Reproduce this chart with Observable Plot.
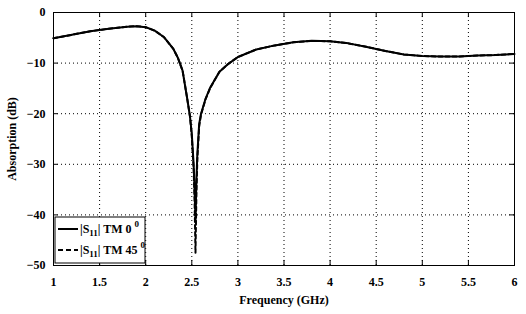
<!DOCTYPE html>
<html><head><meta charset="utf-8">
<script src="https://cdn.jsdelivr.net/npm/d3@7"></script>
<script src="https://cdn.jsdelivr.net/npm/@observablehq/plot@0.6"></script>
<style>
html,body{margin:0;padding:0;background:#fff;}
#chart{width:526px;height:314px;}
</style></head>
<body><div id="chart"></div>
<script>
const freq = [1.0,1.2,1.4,1.6,1.8,1.9,2.0,2.1,2.2,2.3,2.35,2.4,2.45,2.48,2.5,2.52,2.53,2.54,2.55,2.56,2.58,2.6,2.65,2.7,2.8,2.9,3.0,3.2,3.4,3.6,3.8,4.0,4.2,4.4,4.6,4.8,5.0,5.2,5.4,5.6,5.8,6.0];
const tm0 = [-5.1,-4.4,-3.7,-3.2,-2.8,-2.7,-2.9,-3.6,-4.9,-7.2,-9.0,-11.5,-17.0,-20.5,-24,-30,-35,-41,-33,-28,-22,-20,-17,-14.8,-11.7,-10.1,-8.8,-7.3,-6.5,-5.9,-5.6,-5.7,-6.1,-6.8,-7.6,-8.3,-8.6,-8.7,-8.7,-8.5,-8.4,-8.2];
const tm45 = [-5.1,-4.4,-3.7,-3.2,-2.8,-2.7,-2.9,-3.6,-4.9,-7.2,-9.0,-11.5,-17.0,-20.5,-24.5,-31,-37,-47.5,-36,-29,-22.5,-20.2,-17.1,-14.9,-11.7,-10.1,-8.8,-7.3,-6.5,-5.9,-5.6,-5.7,-6.1,-6.8,-7.6,-8.3,-8.6,-8.7,-8.7,-8.5,-8.4,-8.2];
const xTicks = [1,1.5,2,2.5,3,3.5,4,4.5,5,5.5,6];
const yTicks = [-50,-40,-30,-20,-10,0];
const xTickLabels = ["1","1.5","2","2.5","3","3.5","4","4.5","5","5.5","6"];
const legendLabels = ["TM 0","TM 45"];

const rows0 = freq.map((f,i)=>({f, v: tm0[i]}));
const rows45 = freq.map((f,i)=>({f, v: tm45[i]}));
const xInner = xTicks.slice(1,-1), yInner = yTicks.slice(1,-1);

const FONT = "'Liberation Serif', 'Times New Roman', Times, 'DejaVu Serif', serif";
const W = 526, H = 314, mL = 53, mR = 12, mT = 12, mB = 49;
const plot = Plot.plot({
  width: W, height: H,
  marginLeft: mL, marginRight: mR, marginTop: mT, marginBottom: mB,
  style: {fontSize: "12px", fontFamily: FONT, fontWeight: "bold", background: "white", color: "black"},
  x: {domain: [1,6], ticks: xTicks, tickFormat: d=>xTickLabels[xTicks.indexOf(d)], tickSize: 0, tickPadding: 12, label: "Frequency (GHz)", labelAnchor: "center", labelArrow: "none", labelOffset: 38},
  y: {domain: [-50,0], ticks: yTicks, tickSize: 0, tickPadding: 8, label: "Absorption (dB)", labelAnchor: "center", labelArrow: "none", labelOffset: 46},
  marks: [
    Plot.ruleX(xInner, {stroke: "black", strokeWidth: 1, strokeDasharray: "1,3"}),
    Plot.ruleY(yInner, {stroke: "black", strokeWidth: 1, strokeDasharray: "1,3"}),
    Plot.ruleX(xTicks, {y1: -50, y2: -49, stroke: "black"}),
    Plot.ruleX(xTicks, {y1: 0, y2: -1, stroke: "black"}),
    Plot.ruleY(yTicks, {x1: 1, x2: 1.05, stroke: "black"}),
    Plot.ruleY(yTicks, {x1: 6, x2: 5.95, stroke: "black"}),
    Plot.line(rows45, {x: "f", y: "v", stroke: "black", strokeWidth: 2, strokeDasharray: "4,3"}),
    Plot.line(rows0, {x: "f", y: "v", stroke: "black", strokeWidth: 2}),
    Plot.frame({stroke: "black"})
  ]
});
document.getElementById("chart").appendChild(plot);

// legend
const svg = d3.select(plot);
const lg = svg.append("g").attr("text-anchor","start");
const bx = mL + 2, by = 217, bw = 90, bh = 46;
lg.append("rect").attr("x",bx).attr("y",by).attr("width",bw).attr("height",bh).attr("fill","white").attr("stroke","black");
legendLabels.forEach((lab,i)=>{
  const yy = by + 12 + i*21;
  lg.append("line").attr("x1",bx+3).attr("x2",bx+23).attr("y1",yy).attr("y2",yy)
    .attr("stroke","black").attr("stroke-width",2).attr("stroke-dasharray", i? "5,3" : null);
  const t = lg.append("text").attr("x",bx+25).attr("y",yy+4).attr("font-size",12).attr("fill","black");
  t.append("tspan").text("|S");
  t.append("tspan").attr("font-size",9).attr("dy",3).text("11");
  t.append("tspan").attr("dy",-3).text("| " + lab + " ");
  t.append("tspan").attr("font-size",9).attr("dy",-6).text("0");
});
svg.style("font-family", FONT);
svg.selectAll("text").style("font-family", FONT).style("font-weight","bold");
</script></body></html>
